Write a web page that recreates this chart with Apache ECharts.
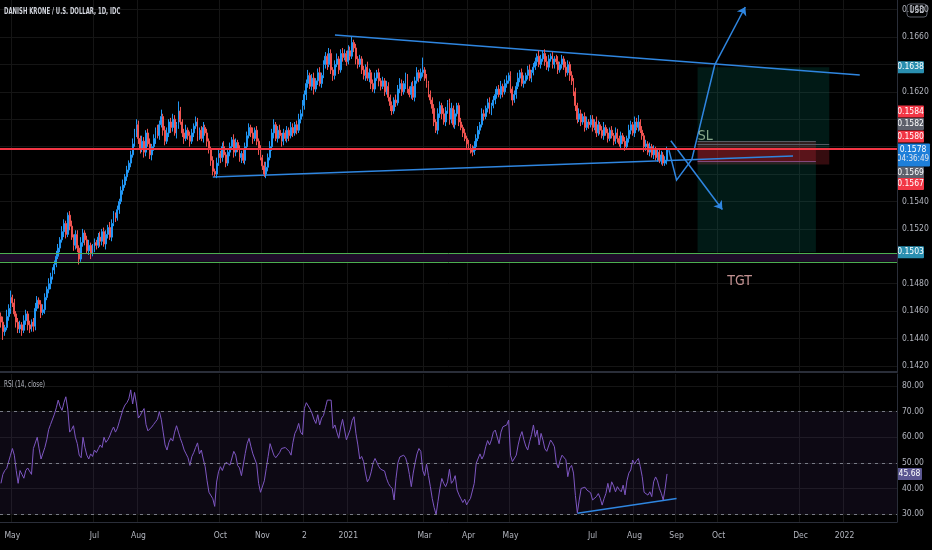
<!DOCTYPE html>
<html>
<head>
<meta charset="utf-8">
<title>DKK / USD</title>
<script src="https://cdn.jsdelivr.net/npm/echarts@6/dist/echarts.min.js"></script>
<style>
  html, body { margin: 0; padding: 0; background: #000; }
  #main { width: 932px; height: 550px; }
</style>
</head>
<body>
<div id="main"></div>
<script>
// trading days start here, the axis runs on into early 2022 (empty part on the right)
var startDate = '2020-04-23';
var dayCount = 470;

// daily closes in pips (x 0.0001)
var firstOpen = 1456;
var closes = [
  1452, 1445, 1448, 1456, 1462, 1470, 1466, 1458, 1452, 1447,
  1450, 1446, 1453, 1458, 1450, 1447, 1452, 1449, 1462, 1468,
  1465, 1459, 1461, 1470, 1476, 1480, 1485, 1490, 1494, 1500,
  1506, 1512, 1518, 1524, 1516, 1530, 1522, 1514, 1508, 1516,
  1506, 1498, 1510, 1517, 1512, 1504, 1508, 1502, 1506, 1510,
  1508, 1514, 1511, 1518, 1509, 1516, 1521, 1514, 1524, 1530,
  1528, 1534, 1540, 1548, 1552, 1558, 1563, 1568, 1574, 1582,
  1590, 1596, 1586, 1578, 1584, 1576, 1590, 1582, 1574, 1580,
  1586, 1592, 1588, 1596, 1602, 1592, 1584, 1590, 1598, 1594,
  1600, 1590, 1596, 1606, 1598, 1590, 1586, 1592, 1588, 1584,
  1590, 1595, 1598, 1588, 1592, 1586, 1594, 1590, 1584, 1578,
  1570, 1562, 1560, 1568, 1575, 1572, 1580, 1574, 1568, 1576,
  1580, 1585, 1576, 1583, 1578, 1572, 1575, 1570, 1580, 1588,
  1594, 1590, 1586, 1592, 1584, 1578, 1572, 1566, 1560, 1565,
  1572, 1580, 1590, 1596, 1586, 1592, 1588, 1584, 1590, 1586,
  1592, 1588, 1594, 1590, 1596, 1592, 1600, 1604, 1610, 1618,
  1626, 1632, 1624, 1630, 1622, 1628, 1634, 1626, 1632, 1640,
  1646, 1640, 1648, 1636, 1632, 1640, 1644, 1636, 1648, 1645,
  1648, 1642, 1650, 1646, 1656, 1652, 1644, 1640, 1644, 1636,
  1632, 1638, 1630, 1634, 1626, 1622, 1630, 1634, 1628, 1624,
  1628, 1620, 1624, 1616, 1610, 1606, 1614, 1612, 1622, 1626,
  1620, 1626, 1630, 1622, 1618, 1624, 1616, 1628, 1634, 1630,
  1634, 1636, 1630, 1626, 1618, 1614, 1608, 1598, 1592, 1604,
  1610, 1604, 1598, 1606, 1612, 1600, 1608, 1596, 1604, 1610,
  1598, 1594, 1590, 1586, 1582, 1580, 1578, 1576, 1580, 1586,
  1592, 1596, 1604, 1602, 1608, 1612, 1606, 1610, 1614, 1618,
  1622, 1618, 1624, 1620, 1626, 1628, 1632, 1622, 1614, 1618,
  1624, 1630, 1634, 1626, 1628, 1632, 1636, 1630, 1634, 1638,
  1642, 1646, 1640, 1644, 1648, 1642, 1638, 1644, 1646, 1640,
  1644, 1642, 1636, 1640, 1644, 1638, 1634, 1640, 1632, 1628,
  1620, 1610, 1600, 1604, 1598, 1602, 1594, 1598, 1596, 1600,
  1594, 1598, 1590, 1596, 1592, 1588, 1594, 1590, 1586, 1592,
  1588, 1584, 1590, 1586, 1582, 1588, 1584, 1580, 1586, 1592,
  1596, 1590, 1598, 1594, 1598, 1592, 1588, 1580, 1582, 1576,
  1580, 1574, 1578, 1572, 1576, 1570, 1574, 1568, 1570, 1578
];

// wick lengths above / below the body, pips
var wickUp = [
  3,4,2,5,3,5,2,3,2,3, 3,2,4,3,2,3,2,3,4,3, 2,3,4,3,2,4,3,2,3,4,
  3,2,4,3,2,2,3,4,2,3, 3,2,4,3,2,3,4,2,3,3, 2,3,4,2,3,3,2,4,3,3,
  2,3,2,3,4,2,3,2,3,4, 3,4,3,2,4,3,2,3,4,2, 3,2,4,3,5,2,3,4,2,3,
  4,3,2,7,3,2,3,4,2,3, 3,2,4,3,2,3,4,2,3,2, 2,3,2,4,3,2,3,4,2,3,
  3,2,4,3,2,3,2,4,3,3, 3,2,4,2,3,2,3,2,3,4, 3,4,3,4,2,3,4,2,3,2,
  3,2,4,3,2,3,4,3,4,3, 3,4,2,3,4,2,3,4,2,3, 3,2,4,3,2,3,4,2,3,4,
  3,2,4,3,4,2,3,2,3,2, 3,2,4,3,2,3,4,2,3,2, 3,2,4,3,2,3,2,4,3,4,
  3,2,4,3,2,3,4,3,4,2, 3,9,2,3,2,3,2,3,2,4, 3,2,4,3,2,3,4,2,3,2,
  2,3,2,3,2,3,2,3,4,3, 3,2,4,3,2,3,4,2,3,4, 2,3,4,2,3,4,2,3,2,3,
  3,4,2,3,4,2,3,4,2,3, 3,2,4,3,2,3,4,3,2,3, 2,3,4,2,3,2,4,3,2,3,
  2,3,2,4,3,2,3,4,2,3, 3,2,4,3,2,3,4,2,3,2, 3,2,4,3,2,3,2,3,2,4,
  3,2,4,3,5,2,3,2,3,2, 3,2,3,2,3,2,3,2,3,2
];
var wickDn = [
  4,6,3,2,3,4,3,2,4,3, 3,4,2,3,4,3,2,4,3,2, 3,4,2,3,2,3,4,2,3,2,
  2,3,2,4,3,2,3,2,4,3, 3,4,2,3,4,2,3,4,2,3, 3,2,4,3,2,4,3,2,3,2,
  3,2,3,2,3,2,3,2,3,2, 2,3,4,3,2,4,3,2,3,4, 3,4,2,3,2,4,3,2,3,4,
  3,2,4,3,2,3,4,2,3,4, 2,3,2,4,3,2,3,2,4,3, 4,3,2,3,2,4,3,2,3,2,
  3,2,4,3,2,3,4,2,3,2, 2,3,4,2,3,4,2,3,2,3, 3,2,3,4,2,3,2,4,3,2,
  3,4,2,3,2,3,2,3,2,3, 4,3,2,3,4,2,3,2,3,2, 3,4,2,3,4,3,2,3,2,3,
  2,3,2,3,2,3,4,3,2,3, 3,4,2,3,4,2,3,2,4,3, 2,3,2,3,4,3,2,3,2,3,
  3,2,4,3,2,3,2,3,2,3, 2,3,2,3,2,3,4,3,2,3, 3,4,2,3,2,4,3,2,3,2,
  3,2,3,2,3,2,3,3,2,3, 2,3,2,3,2,3,2,3,2,3, 3,2,3,4,2,3,2,3,4,2,
  3,2,3,2,3,2,3,2,3,2, 2,3,2,3,2,3,2,3,2,3, 3,2,3,2,3,2,3,2,4,3,
  3,4,3,2,3,2,3,2,3,2, 3,2,3,2,3,2,3,2,3,2, 2,3,2,3,2,3,2,3,2,3,
  3,2,3,2,3,2,3,4,3,2, 3,2,3,2,3,2,3,2,2,3
];

// RSI (14, close)
var rsi = [
  42, 45.5, 47, 47.8, 48.2, 53, 55.6, 53, 47, 42,
  47, 45.5, 44, 47, 48, 47.5, 45.5, 55.6, 56, 60,
  55.5, 51.5, 52, 56, 59, 63, 65, 65.4, 69, 71.5,
  74.5, 72, 70.5, 73.5, 75.8, 71, 62, 63, 64.5, 60,
  57.5, 53, 52, 60, 56, 53, 51.5, 53.5, 52.5, 55,
  54, 55.5, 57, 56, 60, 58, 59, 60.5, 62.5, 64,
  62, 63.5, 66, 68.5, 71, 72.6, 73.5, 75, 78.5, 73,
  77.5, 73, 67.5, 68.5, 70, 71.2, 65, 62.5, 62, 64,
  65, 66, 67, 70, 67, 62, 57, 55, 58, 59.6,
  58.5, 62, 64.5, 62, 59.5, 57.5, 55, 53.5, 52, 49,
  52.4, 54, 56, 57.8, 53.5, 55, 51.5, 48.5, 43, 38.5,
  38.5, 36, 33, 42.5, 46.5, 48.5, 47, 49.1, 50.2, 49.5,
  49.1, 49, 54.5, 53, 49, 48, 45, 44.5, 53.7, 57.5,
  59.6, 56.3, 53.5, 51.5, 49.5, 42, 38.5, 39, 43, 47.8,
  52.5, 57.5, 57, 53, 52, 52.5, 54, 55.6, 55, 56,
  55.3, 54.5, 53, 58, 61.5, 63, 65.4, 62, 61, 71.3,
  73.5, 73, 71, 69.3, 67, 65.4, 68.8, 64.8, 67.5, 68.5,
  71.5, 74.5, 74, 74.5, 63.5, 64.8, 62, 59.6, 64, 67,
  67, 59, 58.9, 63, 66.5, 68, 61.5, 57, 51.5, 52.5,
  50.5, 46, 42.6, 43.8, 46.5, 50, 51.7, 52.4, 48.5, 47.5,
  47.8, 46.8, 44, 42, 40.8, 40, 35.5, 44, 50, 52.3,
  52.6, 53, 52, 49.5, 45.5, 40.7, 46, 50, 53.5, 55.6,
  54.5, 47, 45, 49.5, 45, 40.7, 36, 32.5, 29.8, 35,
  40, 43.9, 42, 40.7, 42.6, 47.5, 42, 43, 45, 39.4,
  37.5, 36, 34.5, 35.8, 33.6, 35, 36.1, 36.8, 42, 49.8,
  50.4, 53.5, 51.5, 53, 56.3, 58.7, 57, 59, 62, 62.8,
  62.2, 57.5, 62, 64.1, 64.5, 64.8, 66.7, 53, 50.5, 49.8,
  53, 57, 60.2, 62.2, 59, 56.5, 55, 58.3, 61, 64.8,
  60.2, 62.8, 57, 61.5, 58.9, 55.5, 54.5, 55, 58.9, 57.8,
  56.3, 50, 48, 51, 53, 53.7, 51.2, 44.6, 48, 49,
  46, 37.2, 30.5, 35.5, 40, 40, 40.5, 39.4, 40, 38.3,
  35.5, 34.8, 36.8, 38, 36.2, 33.5, 36, 38.1, 42, 38.5,
  42.6, 41, 38.7, 40.7, 39.5, 38.7, 41.3, 37.5, 43, 46,
  47.2, 51.1, 49.5, 50.8, 51.7, 48.5, 44.6, 38.5, 37.8, 37.4,
  38.7, 36.8, 42.6, 44.5, 43, 40, 38.1, 35.5, 40, 45.68
];

// grid lines every 0.0020; labels hidden where a price badge sits on them
var priceTicks = [0.1420, 0.1440, 0.1460, 0.1480, 0.1500, 0.1520, 0.1540,
                  0.1560, 0.1580, 0.1600, 0.1620, 0.1640, 0.1660, 0.1680];
var priceLabels = [0.1420, 0.1440, 0.1460, 0.1480, 0.1520, 0.1540,
                   0.1620, 0.1660, 0.1680];
var rsiTicks = [30, 40, 50, 60, 70, 80];
var timeTicks = [
  ['2020-05-01', 'May'], ['2020-07-01', 'Jul'], ['2020-08-03', 'Aug'],
  ['2020-10-01', 'Oct'], ['2020-11-02', 'Nov'], ['2020-12-02', '2'],
  ['2021-01-04', '2021'], ['2021-03-01', 'Mar'], ['2021-04-01', 'Apr'],
  ['2021-05-03', 'May'], ['2021-07-01', 'Jul'], ['2021-08-02', 'Aug'],
  ['2021-09-01', 'Sep'], ['2021-10-01', 'Oct'], ['2021-12-01', 'Dec'],
  ['2022-01-03', '2022']
];

// drawings, [day index, price]
var upperTrend = [[175, 0.16615], [450, 0.16323]];
var lowerTrend = [[111, 0.15578], [415, 0.15731]];
var zigzag = [[350, 0.15775], [354, 0.15556], [362, 0.15707], [374, 0.16396]];
var zigzagTip = [[374, 0.16396], [390, 0.16819]];
var downArrow = [[351, 0.15843], [378, 0.15342]];
var rsiTrend = [[302, 30.3], [354, 36.1]];

var FONT = "'Liberation Sans Narrow', 'DejaVu Sans Condensed', 'Liberation Sans', sans-serif";
var TXT = '#b2b5be';
var GRID = '#151515';
var BLUE = '#2f86e0';

var dates = [];
var d = new Date(startDate + 'T00:00:00Z');
while (dates.length < dayCount) {
  var wd = d.getUTCDay();
  if (wd !== 0 && wd !== 6) dates.push(d.toISOString().slice(0, 10));
  d.setUTCDate(d.getUTCDate() + 1);
}
var tickText = {};
timeTicks.forEach(function (t) {
  var k = dates.indexOf(t[0]);
  if (k >= 0) tickText[k] = t[1];
});
function isTick(idx) { return tickText[idx] !== undefined; }

var candles = closes.map(function (c, i) {
  var o = i ? closes[i - 1] : firstOpen;
  return [o / 1e4, c / 1e4, (Math.min(o, c) - wickDn[i]) / 1e4, (Math.max(o, c) + wickUp[i]) / 1e4];
});

var myChart = echarts.init(document.getElementById('main'));

var option = {
  backgroundColor: '#000000',
  animation: false,
  textStyle: { fontFamily: FONT },
  grid: [
    { left: 0, right: 35, top: 0, height: 372 },
    { left: 0, right: 35, top: 374, bottom: 28 }
  ],
  xAxis: [
    {
      type: 'category', gridIndex: 0, data: dates, boundaryGap: true,
      axisLabel: { show: false }, axisTick: { show: false },
      axisLine: { lineStyle: { color: '#2a2e39', width: 2 } },
      splitLine: { show: true, interval: isTick, lineStyle: { color: GRID } }
    },
    {
      type: 'category', gridIndex: 1, data: dates, boundaryGap: true,
      axisTick: { show: false },
      axisLine: { lineStyle: { color: '#2a2e39' } },
      axisLabel: {
        interval: isTick, color: TXT, fontSize: 8.5, margin: 9, fontFamily: FONT,
        formatter: function (v, idx) { return tickText[idx] || ''; }
      },
      splitLine: { show: true, interval: isTick, lineStyle: { color: GRID } }
    }
  ],
  yAxis: [
    {
      type: 'value', gridIndex: 0, position: 'right', min: 0.14156, max: 0.16870,
      axisLine: { show: true, lineStyle: { color: '#2a2e39' } },
      axisTick: { show: false, customValues: priceTicks },
      axisLabel: {
        customValues: priceLabels, color: TXT, fontSize: 8.5, margin: 5, fontFamily: FONT,
        formatter: function (v) { return v.toFixed(4); }
      },
      splitLine: { show: true, lineStyle: { color: GRID } }
    },
    {
      type: 'value', gridIndex: 1, position: 'right', min: 26.9, max: 84.7,
      axisLine: { show: true, lineStyle: { color: '#2a2e39' } },
      axisTick: { show: false, customValues: rsiTicks },
      axisLabel: {
        customValues: rsiTicks, color: TXT, fontSize: 8.5, margin: 5, fontFamily: FONT,
        formatter: function (v) { return v.toFixed(2); }
      },
      splitLine: { show: true, lineStyle: { color: GRID } }
    }
  ],
  series: [
    {
      name: 'DKKUSD', type: 'candlestick', xAxisIndex: 0, yAxisIndex: 0,
      data: candles, barWidth: '72%',
      itemStyle: {
        color: '#2196f3', color0: '#ef5350',
        borderColor: '#2196f3', borderColor0: '#ef5350', borderWidth: 1
      },
      markArea: {
        silent: true,
        data: [
          [{ yAxis: 0.1496, itemStyle: { color: '#1f0d2a' } }, { yAxis: 0.1502 }],
          [{ xAxis: 365, yAxis: 0.1638, itemStyle: { color: 'rgba(8,153,129,0.17)' } }, { xAxis: 434, yAxis: 0.1578 }],
          [{ xAxis: 365, yAxis: 0.1578, itemStyle: { color: 'rgba(242,54,69,0.22)' } }, { xAxis: 434, yAxis: 0.1567 }],
          [{ xAxis: 365, yAxis: 0.1584, itemStyle: { color: 'rgba(242,54,69,0.2)' } }, { xAxis: 427, yAxis: 0.1569 }],
          [{ xAxis: 365, yAxis: 0.1569, itemStyle: { color: 'rgba(8,153,129,0.17)' } }, { xAxis: 427, yAxis: 0.1503 }]
        ]
      },
      markLine: {
        silent: true, symbol: 'none', precision: 6, label: { show: false },
        data: [
          { yAxis: 0.1502, lineStyle: { color: '#4caf50', width: 1, type: 'solid' } },
          { yAxis: 0.1496, lineStyle: { color: '#4caf50', width: 1, type: 'solid' } },
          { yAxis: 0.15785, lineStyle: { color: '#f23645', width: 2, type: 'solid' } }
        ]
      }
    },
    {
      name: 'trend', type: 'lines', coordinateSystem: 'cartesian2d', xAxisIndex: 0, yAxisIndex: 0,
      silent: true, lineStyle: { color: BLUE, width: 1.5, opacity: 1 },
      data: [{ coords: upperTrend }, { coords: lowerTrend }]
    },
    {
      name: 'levels', type: 'lines', coordinateSystem: 'cartesian2d', xAxisIndex: 0, yAxisIndex: 0,
      silent: true, lineStyle: { color: '#5d606b', width: 1, opacity: 0.9 },
      data: [
        { coords: [[365, 0.1584], [427, 0.1584]] },
        { coords: [[365, 0.1582], [434, 0.1582]] },
        { coords: [[365, 0.1569], [427, 0.1569]], lineStyle: { color: '#8a4f8a' } }
      ]
    },
    {
      name: 'zigzag', type: 'lines', coordinateSystem: 'cartesian2d', xAxisIndex: 0, yAxisIndex: 0,
      polyline: true, silent: true,
      lineStyle: { color: BLUE, width: 1.5, opacity: 1 },
      data: [{ coords: zigzag }]
    },
    {
      name: 'arrows', type: 'lines', coordinateSystem: 'cartesian2d', xAxisIndex: 0, yAxisIndex: 0,
      silent: true, symbol: ['none', 'arrow'], symbolSize: 8,
      lineStyle: { color: BLUE, width: 1.5, opacity: 1 },
      data: [{ coords: zigzagTip }, { coords: downArrow }]
    },
    {
      name: 'notes', type: 'scatter', xAxisIndex: 0, yAxisIndex: 0, symbolSize: 0, silent: true,
      label: {
        show: true, position: 'inside', fontFamily: FONT, fontSize: 14,
        formatter: function (p) { return p.name; }
      },
      data: [
        { name: 'SL', value: [369, 0.15877], label: { color: '#a9c9a6' } },
        { name: 'TGT', value: [387, 0.14819], label: { color: '#f3b5b5' } }
      ]
    },
    {
      name: 'RSI', type: 'line', xAxisIndex: 1, yAxisIndex: 1, data: rsi,
      showSymbol: false, silent: true,
      lineStyle: { color: '#7e57c2', width: 1 },
      markArea: {
        silent: true,
        data: [[{ yAxis: 30, itemStyle: { color: 'rgba(126,87,194,0.1)' } }, { yAxis: 70 }]]
      },
      markLine: {
        silent: true, symbol: 'none', label: { show: false },
        lineStyle: { color: '#787b86', type: [3, 4], width: 1 },
        data: [{ yAxis: 70 }, { yAxis: 50 }, { yAxis: 30 }]
      }
    },
    {
      name: 'rsiTrend', type: 'lines', coordinateSystem: 'cartesian2d', xAxisIndex: 1, yAxisIndex: 1,
      silent: true, lineStyle: { color: BLUE, width: 1.5, opacity: 1 },
      data: [{ coords: rsiTrend }]
    }
  ]
};

myChart.setOption(option);

// price badges on the right scale
function badge(y, text, bg, w) {
  w = w || 27;
  return {
    type: 'group', children: [
      { type: 'rect', shape: { x: 897, y: y - 6, width: w, height: 12, r: 1 }, style: { fill: bg } },
      { type: 'text', x: 897 + w / 2, y: y, style: { text: text, fill: '#ffffff', font: '8.5px ' + FONT, align: 'center', verticalAlign: 'middle' } }
    ]
  };
}
function py(v) { return myChart.convertToPixel({ yAxisIndex: 0 }, v); }
var last = py(closes[closes.length - 1] / 1e4);
var rsiY = myChart.convertToPixel({ yAxisIndex: 1 }, rsi[rsi.length - 1]);

myChart.setOption({
  graphic: [
    { type: 'text', x: 4, y: 7, scaleX: 0.66, style: { text: 'DANISH KRONE / U.S. DOLLAR, 1D, IDC', fill: '#d1d4dc', font: 'bold 9px ' + FONT } },
    { type: 'text', x: 4, y: 380, scaleX: 0.7, style: { text: 'RSI (14, close)', fill: '#b2b5be', font: '9px ' + FONT } },
    badge(py(0.1638), '0.1638', '#2a8fb0'),
    badge(py(0.1503), '0.1503', '#2a8fb0'),
    badge(last - 38, '0.1584', '#f23645'),
    badge(last - 25.5, '0.1582', '#5d606b'),
    badge(last - 13, '0.1580', '#f23645'),
    badge(last + 23, '0.1569', '#5d606b'),
    badge(last + 34.5, '0.1567', '#f23645'),
    {
      type: 'group', children: [
        { type: 'rect', shape: { x: 897, y: last - 6, width: 33, height: 23, r: 1 }, style: { fill: '#1e7fd9' } },
        { type: 'text', x: 913, y: last, style: { text: '0.1578', fill: '#ffffff', font: '8.5px ' + FONT, align: 'center', verticalAlign: 'middle' } },
        { type: 'text', x: 913, y: last + 10, style: { text: '04:36:49', fill: '#e0e6f0', font: '8px ' + FONT, align: 'center', verticalAlign: 'middle' } }
      ]
    },
    badge(rsiY, '45.68', '#5b5791', 25),
    {
      type: 'group', children: [
        { type: 'rect', shape: { x: 907, y: 4, width: 20, height: 13, r: 3 }, style: { fill: '#000', stroke: '#5d606b', lineWidth: 1 } },
        { type: 'text', x: 917, y: 10.5, style: { text: 'USD', fill: '#d1d4dc', font: '8px ' + FONT, align: 'center', verticalAlign: 'middle' } }
      ]
    }
  ]
});
</script>
</body>
</html>
